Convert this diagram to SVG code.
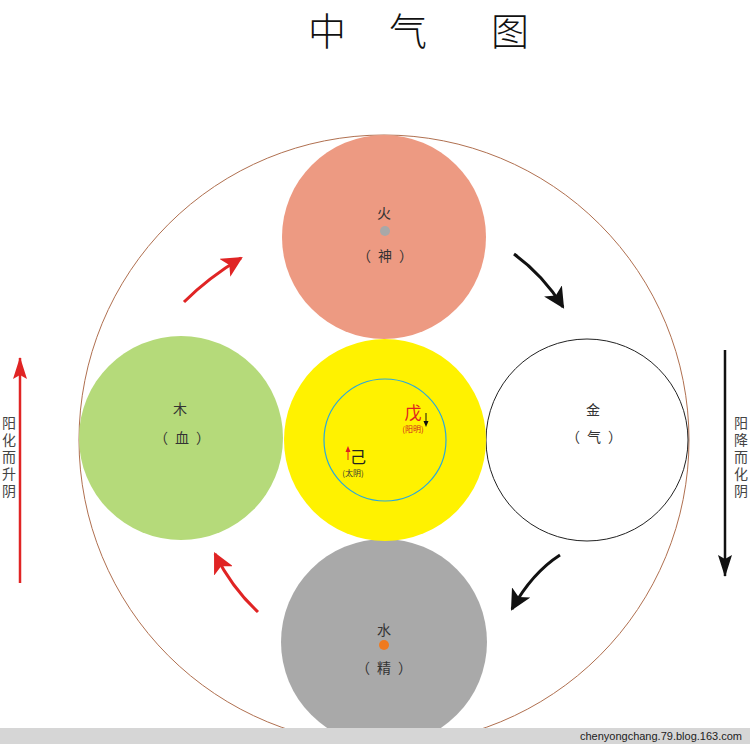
<svg xmlns="http://www.w3.org/2000/svg" width="750" height="744" viewBox="0 0 750 744">
<style>
.cjk{font-family:"Noto Sans CJK SC",sans-serif;fill:#333}
.lab{font-size:14px;text-anchor:middle}
.title{font-size:38px;font-weight:300;fill:#111;text-anchor:middle}
.side{font-size:14px;fill:#444;writing-mode:vertical-rl;letter-spacing:3px}
</style>
<defs>
<marker id="ahr" viewBox="0 0 10 10" refX="9" refY="5" markerWidth="7" markerHeight="7" orient="auto" markerUnits="strokeWidth"><path d="M0,0 L10,5 L0,10 L2.5,5 Z" fill="#E02424"/></marker>
<marker id="ahk" viewBox="0 0 10 10" refX="9" refY="5" markerWidth="7" markerHeight="7" orient="auto" markerUnits="strokeWidth"><path d="M0,0 L10,5 L0,10 L2.5,5 Z" fill="#111"/></marker>
<marker id="lhr" viewBox="0 0 22 14" refX="21" refY="7" markerWidth="22" markerHeight="14" orient="auto" markerUnits="userSpaceOnUse"><path d="M0,0 L22,7 L0,14 L4,7 Z" fill="#E02424"/></marker>
<marker id="lhk" viewBox="0 0 22 14" refX="21" refY="7" markerWidth="22" markerHeight="14" orient="auto" markerUnits="userSpaceOnUse"><path d="M0,0 L22,7 L0,14 L4,7 Z" fill="#111"/></marker>
</defs>
<rect width="750" height="744" fill="#fff"/>
<g id="title">
<text class="cjk title" x="327" y="45">中</text>
<text class="cjk title" x="408" y="45">气</text>
<text class="cjk title" x="510" y="45">图</text>
</g>
<g id="outer"><circle cx="384" cy="440" r="305" fill="none" stroke="#B07050" stroke-width="1"/></g>
<g id="fire">
<circle cx="384" cy="237" r="102" fill="#ED9A82"/>
<text class="cjk lab" x="384" y="218">火</text>
<circle cx="385" cy="231" r="5" fill="#A8A8A8"/>
<text class="cjk lab" x="364" y="261">（</text><text class="cjk lab" x="385" y="261">神</text><text class="cjk lab" x="406" y="261">）</text>
</g>
<g id="wood">
<circle cx="181" cy="438" r="102" fill="#B5DA7A"/>
<text class="cjk lab" x="180" y="414">木</text>
<text class="cjk lab" x="161" y="443">（</text><text class="cjk lab" x="182" y="443">血</text><text class="cjk lab" x="203" y="443">）</text>
</g>
<g id="metal">
<circle cx="587" cy="440" r="101" fill="#fff" stroke="#222" stroke-width="1"/>
<text class="cjk lab" x="593" y="415">金</text>
<text class="cjk lab" x="573" y="442">（</text><text class="cjk lab" x="594" y="442">气</text><text class="cjk lab" x="615" y="442">）</text>
</g>
<g id="water">
<circle cx="384" cy="642" r="103" fill="#A9A9A9"/>
<text class="cjk lab" x="384" y="635">水</text>
<circle cx="384" cy="645" r="5" fill="#F07A1E"/>
<text class="cjk lab" x="363" y="673">（</text><text class="cjk lab" x="384" y="673">精</text><text class="cjk lab" x="405" y="673">）</text>
</g>
<g id="earth">
<circle cx="385" cy="440" r="101" fill="#FFF200"/>
<circle cx="385" cy="440" r="61" fill="none" stroke="#2AA8DC" stroke-width="1.2"/>
<text class="cjk" x="413" y="419" font-size="17" text-anchor="middle" style="fill:#E02020">戊</text>
<text class="cjk" x="413" y="432" font-size="8" text-anchor="middle" style="fill:#D02020">(阳明)</text>
<text class="cjk" x="358" y="463" font-size="16" text-anchor="middle" style="fill:#222">己</text>
<text class="cjk" x="353" y="476" font-size="8" text-anchor="middle" style="fill:#333">(太阴)</text>
</g>
<g id="connectors" fill="none">
<path d="M426,413 V424" stroke="#111" stroke-width="1"/>
<path d="M423.5,421 L426,427 L428.5,421 Z" fill="#111"/>
<path d="M348,460 V450" stroke="#E02020" stroke-width="1"/>
<path d="M345.5,452 L348,446 L350.5,452 Z" fill="#E02020"/>
<path d="M184,302 Q208,278 241,258" stroke="#E02424" stroke-width="3" marker-end="url(#ahr)"/>
<path d="M514,254 Q543,275 563,307" stroke="#111" stroke-width="3" marker-end="url(#ahk)"/>
<path d="M560,555 Q532,573 512,609" stroke="#111" stroke-width="3" marker-end="url(#ahk)"/>
<path d="M258,612 Q232,588 215,554" stroke="#E02424" stroke-width="3" marker-end="url(#ahr)"/>
<path d="M20,583 V358" stroke="#E02424" stroke-width="2.5" marker-end="url(#lhr)"/>
<path d="M725,350 V576" stroke="#111" stroke-width="2.5" marker-end="url(#lhk)"/>
</g>
<g id="sidetexts">
<text class="cjk side" x="9" y="416">阳化而升阴</text>
<text class="cjk side" x="741" y="416">阳降而化阴</text>
</g>
<g id="footer">
<rect x="0" y="728" width="750" height="16" fill="#D6D6D6"/>
<text x="742" y="740" font-family="Liberation Sans,sans-serif" font-size="11" fill="#222" text-anchor="end">chenyongchang.79.blog.163.com</text>
</g>
</svg>
